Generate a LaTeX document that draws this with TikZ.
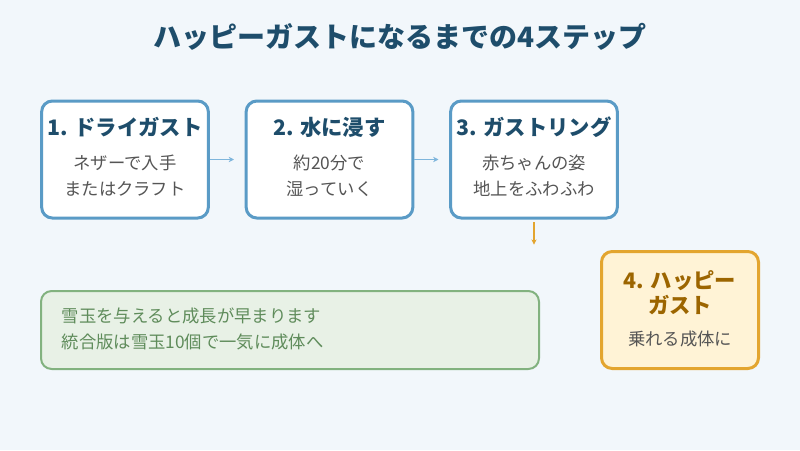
\documentclass[tikz,border=0pt]{standalone}
\usepackage{fontspec}
\setmainfont{Noto Sans CJK JP}
\usepackage{tikz}
\usepackage{xcolor}
\usetikzlibrary{arrows.meta,positioning,calc}
\definecolor{bgpale}{HTML}{F2F7FB}
\definecolor{titleblue}{HTML}{1E4D6B}
\definecolor{stepblue}{HTML}{5A9BC6}
\definecolor{arrblue}{HTML}{7FB6DC}
\definecolor{bodygray}{HTML}{555555}
\definecolor{goldline}{HTML}{E3A52F}
\definecolor{goldbg}{HTML}{FFF3D6}
\definecolor{goldtext}{HTML}{9C6500}
\definecolor{grnline}{HTML}{82B27F}
\definecolor{grnbg}{HTML}{E8F1E6}
\definecolor{grntext}{HTML}{5F8C5B}
\tikzset{
  stepcard/.style={draw=stepblue,fill=white,line width=2.25pt,rounded corners=8pt,
                   minimum width=125pt,minimum height=87.75pt},
  goalcard/.style={draw=goldline,fill=goldbg,line width=2.25pt,rounded corners=8pt,
                   minimum width=117.75pt,minimum height=87.75pt},
  notecard/.style={draw=grnline,fill=grnbg,line width=1.5pt,rounded corners=8pt,
                   minimum width=373.5pt,minimum height=58.5pt},
  steptitle/.style={font=\fontsize{16}{19}\selectfont\bfseries,text=titleblue},
  stepbody/.style={font=\fontsize{13}{19.5}\selectfont,text=bodygray,align=center},
  bluearr/.style={-{Stealth[length=4pt,width=4pt]},line width=0.8pt,draw=arrblue},
  goldarr/.style={-{Stealth[length=4pt,width=4pt]},line width=0.8pt,draw=goldline}
}
\begin{document}
\begin{tikzpicture}[x=0.75pt,y=-0.75pt]
    \fill[bgpale] (0,0) rectangle (800,450);
    \useasboundingbox (0,0) rectangle (800,450);
    \node[font=\fontsize{21}{25}\selectfont\bfseries,text=titleblue] (title) at (400,37)
      {ハッピーガストになるまでの4ステップ};
    % the three step cards
    \node[stepcard] (s1) at (125,159.5) {};
    \node[steptitle] (s1t) at (125,127) {1. ドライガスト};
    \node[stepbody] (s1b) at (125,175.5) {ネザーで入手\\またはクラフト};
    \node[stepcard] (s2) at (329.5,159.5) {};
    \node[steptitle] (s2t) at (329.5,127) {2. 水に浸す};
    \node[stepbody] (s2b) at (329.5,175.5) {約20分で\\湿っていく};
    \node[stepcard] (s3) at (534,159.5) {};
    \node[steptitle] (s3t) at (534,127) {3. ガストリング};
    \node[stepbody] (s3b) at (534,175.5) {赤ちゃんの姿\\地上をふわふわ};
    % final stage
    \node[goalcard] (s4) at (680,310) {};
    \node[steptitle,text=goldtext,align=center,
          font=\fontsize{16}{19}\selectfont\bfseries] (s4t) at (680,292.5)
      {4. ハッピー\\ガスト};
    \node[stepbody] (s4b) at (680,339) {乗れる成体に};
    % tip box
    \node[notecard] (tip) at (290,330) {};
    \node[stepbody,text=grntext,align=left,anchor=west] (tipt) at (57,329)
      {雪玉を与えると成長が早まります\\統合版は雪玉10個で一気に成体へ};
    \draw[bluearr,shorten >=8pt] (s1) -- (s2);
    \draw[bluearr,shorten >=8pt] (s2) -- (s3);
    \draw[goldarr,shorten <=2pt,shorten >=4pt] (s3.south) -- (s3.south |- s4.north);
  \end{tikzpicture}
\end{document}
